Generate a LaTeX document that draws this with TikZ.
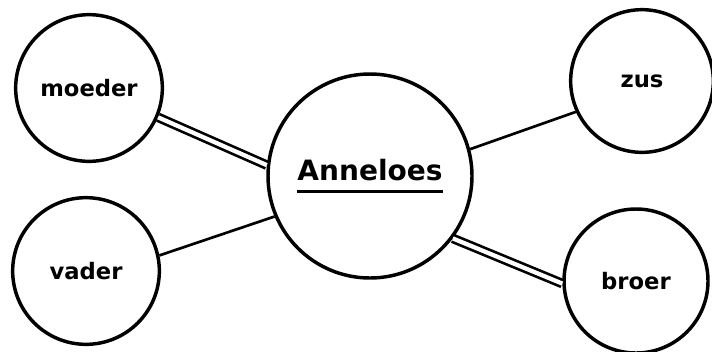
\documentclass[tikz,border=0pt]{standalone}
\usepackage{fontspec}
\setmainfont{DejaVu Sans}
\tikzset{every picture/.style={line width=0.75pt}}
\tikzset{
  persoon/.style={draw, circle, line width=2.6pt, inner sep=0pt, minimum size=#1, font=\fontsize{17}{20}\selectfont\bfseries},
  band/.style={line width=2pt},
  sterkband/.style={line width=2pt, double=white, double distance=3.2pt}
}

\begin{document}
\begin{tikzpicture}[x=0.75pt,y=0.75pt,yscale=-1,xscale=1]
    \useasboundingbox (0,0) rectangle (712,351);
    %Shape: Circle [id:moeder]
    \node [persoon=110pt] (moeder) at (89,88) {moeder};
    %Shape: Circle [id:vader]
    \node [persoon=110pt] (vader) at (86,271) {vader};
    %Shape: Circle [id:anneloes]
    \node [persoon=153pt, align=center, font=\fontsize{21}{24}\selectfont\bfseries] (anneloes) at (370,176) {Anneloes\\[-15pt]\rule{110pt}{2pt}};
    %Shape: Circle [id:zus]
    \node [persoon=107pt] (zus) at (642,81) {zus};
    %Shape: Circle [id:broer]
    \node [persoon=108pt] (broer) at (636,281) {broer};

    %Straight Lines [id:moeder-anneloes]
    \draw [sterkband] (moeder.-23) -- (anneloes.174) ;
    %Straight Lines [id:vader-anneloes]
    \draw [band] (vader.12) -- (anneloes.203) ;
    %Straight Lines [id:anneloes-zus]
    \draw [band] (anneloes.15) -- (zus.205) ;
    %Straight Lines [id:anneloes-broer]
    \draw [sterkband] (anneloes.-37) -- (broer.182) ;
  \end{tikzpicture}
\end{document}
